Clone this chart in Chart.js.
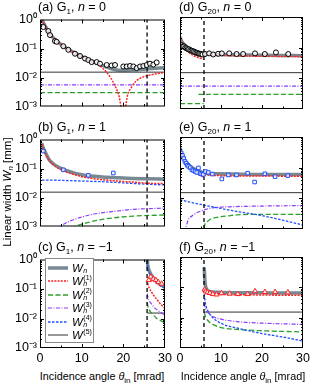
<!DOCTYPE html>
<html>
<head>
<meta charset="utf-8">
<script src="https://cdn.jsdelivr.net/npm/chart.js@4.4.1/dist/chart.umd.min.js"></script>
<style>
body{margin:0;width:313px;height:384px;background:#fff;position:relative;overflow:hidden;font-family:"Liberation Sans",Arial,sans-serif;color:#000}
canvas{position:absolute}
.t{position:absolute;font-size:12.5px;line-height:14px;white-space:nowrap}
.t sub,.ax sub{font-size:8px;vertical-align:-3px;line-height:0}
.ax{position:absolute;font-size:10.8px;line-height:13px;white-space:nowrap;transform:translateX(-50%)}
#ylab{position:absolute;left:8px;top:192px;transform:translate(-50%,-50%) rotate(-90deg);font-size:11.5px;white-space:nowrap}
#legend{position:absolute;left:45px;top:258px;width:49px;height:85px;border:1px solid #888;background:#fff;box-sizing:border-box}
.row{position:absolute;left:2px;height:13px;display:flex;align-items:center}
.row svg{display:block}
.lab{margin-left:4px;font-size:11.5px;font-style:italic;display:flex;align-items:center}
.ss{display:inline-flex;flex-direction:column;font-size:7px;line-height:6.5px;margin-left:0.5px}
</style>
</head>
<body>
<canvas id="ca" width="180" height="108" style="left:0;top:9px"></canvas>
<canvas id="cb" width="180" height="108" style="left:0;top:129px"></canvas>
<canvas id="cc" width="180" height="120" style="left:0;top:249px"></canvas>
<canvas id="cd" width="145" height="108" style="left:168px;top:9px"></canvas>
<canvas id="ce" width="145" height="108" style="left:168px;top:129px"></canvas>
<canvas id="cf" width="145" height="120" style="left:168px;top:249px"></canvas>

<div class="t" style="left:38px;top:0px">(a) G<sub>1</sub>, <i>n</i> = 0</div>
<div class="t" style="left:38px;top:120px">(b) G<sub>1</sub>, <i>n</i> = 1</div>
<div class="t" style="left:38px;top:240px">(c) G<sub>1</sub>, <i>n</i> = −1</div>
<div class="t" style="left:179px;top:0px">(d) G<sub>20</sub>, <i>n</i> = 0</div>
<div class="t" style="left:179px;top:120px">(e) G<sub>20</sub>, <i>n</i> = 1</div>
<div class="t" style="left:179px;top:240px">(f) G<sub>20</sub>, <i>n</i> = −1</div>

<div id="ylab">Linear width <i>W</i><sub style="font-size:8px;vertical-align:-2px"><i>n</i></sub> [mm]</div>
<div class="ax" style="left:102px;top:370px">Incidence angle <i>θ</i><sub>in</sub> [mrad]</div>
<div class="ax" style="left:243px;top:370px">Incidence angle <i>θ</i><sub>in</sub> [mrad]</div>

<div id="legend">
  <div class="row" style="top:2px"><svg width="20" height="6"><line x1="0" y1="3" x2="20" y2="3" stroke="rgb(120,137,148)" stroke-width="3.5"/></svg><span class="lab">W<span class="ss"><span>&nbsp;</span><span>n</span></span></span></div>
  <div class="row" style="top:15.5px"><svg width="20" height="6"><line x1="0" y1="3" x2="20" y2="3" stroke="#ff2020" stroke-width="1.5" stroke-dasharray="2 1.2"/></svg><span class="lab">W<span class="ss"><span style="font-style:normal">(1)</span><span>n</span></span></span></div>
  <div class="row" style="top:29px"><svg width="20" height="6"><line x1="0" y1="3" x2="20" y2="3" stroke="#2aa02a" stroke-width="1.3" stroke-dasharray="5 2.5"/></svg><span class="lab">W<span class="ss"><span style="font-style:normal">(2)</span><span>n</span></span></span></div>
  <div class="row" style="top:42.5px"><svg width="20" height="6"><line x1="0" y1="3" x2="20" y2="3" stroke="#8a3cff" stroke-width="1.2" stroke-dasharray="4 1.5 1 1.5"/></svg><span class="lab">W<span class="ss"><span style="font-style:normal">(3)</span><span>n</span></span></span></div>
  <div class="row" style="top:56px"><svg width="20" height="6"><line x1="0" y1="3" x2="20" y2="3" stroke="#1f4fff" stroke-width="1.3" stroke-dasharray="2.5 1.5"/></svg><span class="lab">W<span class="ss"><span style="font-style:normal">(4)</span><span>n</span></span></span></div>
  <div class="row" style="top:69.5px"><svg width="20" height="6"><line x1="0" y1="3" x2="20" y2="3" stroke="#333" stroke-width="1"/></svg><span class="lab">W<span class="ss"><span style="font-style:normal">(5)</span><span>&nbsp;</span></span></span></div>
</div>

<script>
// axes
const xTicks = [0, 10, 20, 30];
const yTicks = [1e-3, 1e-2, 1e-1, 1];
const yTickLabels = ['10⁻³', '10⁻²', '10⁻¹', '10⁰'];
const cutG1 = 25.7;
const cutG20 = 5.85;

// (a) G1, n = 0
const aX = [0.4, 1, 2, 3, 4, 5, 6, 8, 10, 12, 14, 16, 18, 20, 22, 24, 26, 28, 30];
const aWn = [1.0, 0.7, 0.38, 0.25, 0.18, 0.14, 0.11, 0.075, 0.053, 0.039, 0.03, 0.023, 0.0185, 0.0175, 0.018, 0.019, 0.02, 0.021, 0.022];
const aX1 = [0.4, 1, 2, 3, 4, 5, 6, 8, 10, 12, 14, 15, 16, 17, 18, 19, 20, 21, 22, 23, 24, 26, 28, 30];
const aW1 = [1.0, 0.7, 0.38, 0.25, 0.18, 0.14, 0.11, 0.075, 0.052, 0.037, 0.027, 0.021, 0.015, 0.0095, 0.0052, 0.0022, 0.0004, 0.0024, 0.0047, 0.0074, 0.0093, 0.0118, 0.0135, 0.015];
const aXc = [0, 30];
const aW2 = [0.003, 0.003];
const aW3 = [0.0056, 0.0056];
const aW5 = [0.0153, 0.0153];
const aCircX = [0.8, 2.0, 2.4, 3.6, 4.0, 5.6, 6.8, 8.4, 9.6, 10.8, 11.6, 12.4, 13.6, 14.4, 16.0, 17.2, 18.0, 20.0, 20.8, 21.6, 22.4, 23.2, 24.0, 24.8, 25.6, 26.4, 27.2, 28.0];
const aCircY = [0.55, 0.4, 0.29, 0.18, 0.17, 0.12, 0.09, 0.066, 0.055, 0.045, 0.04, 0.034, 0.034, 0.03, 0.027, 0.026, 0.027, 0.024, 0.024, 0.025, 0.024, 0.021, 0.024, 0.025, 0.027, 0.03, 0.028, 0.033];

// (b) G1, n = 1
const bX = [0.4, 0.8, 1.2, 1.6, 2.2, 3.2, 4.5, 6.4, 8.5, 10.4, 14.4, 18.4, 22.4, 26, 30];
const bWn = [0.75, 0.5, 0.38, 0.29, 0.2, 0.145, 0.11, 0.084, 0.068, 0.06, 0.052, 0.048, 0.045, 0.044, 0.043];
const bW1 = [0.7, 0.47, 0.35, 0.27, 0.19, 0.135, 0.1, 0.075, 0.06, 0.051, 0.042, 0.037, 0.034, 0.031, 0.03];
const bX4 = [0.5, 5, 10, 15, 20, 25, 30];
const bW4 = [0.04, 0.039, 0.037, 0.035, 0.032, 0.029, 0.027];
const bX3 = [4, 4.8, 7, 10.4, 13, 16.8, 22.4, 30];
const bW3 = [0.0008, 0.001, 0.0015, 0.0022, 0.0027, 0.0032, 0.0039, 0.0043];
const bX2 = [7.5, 8.4, 10, 14.4, 20.8, 30];
const bW2 = [0.0008, 0.001, 0.0012, 0.0017, 0.0022, 0.0025];
const bW5 = [0.0153, 0.0153];
const bSqX = [0.8, 5.6, 11.6, 17.6];
const bSqY = [0.4, 0.09, 0.058, 0.07];

// (c) G1, n = -1
const cX = [25.75, 25.9, 26.2, 26.6, 27, 27.5, 28, 29, 30];
const cWn = [1.0, 0.6, 0.42, 0.32, 0.26, 0.21, 0.18, 0.14, 0.12];
const cW4 = [0.9, 0.5, 0.36, 0.28, 0.23, 0.19, 0.16, 0.125, 0.105];
const cW1 = [0.2, 0.15, 0.11, 0.085, 0.07, 0.055, 0.045, 0.03, 0.022];
const cW3 = [0.07, 0.05, 0.04, 0.033, 0.028, 0.023, 0.02, 0.016, 0.013];
const cW2 = [0.035, 0.025, 0.02, 0.016, 0.014, 0.012, 0.01, 0.0085, 0.007];
const cX5 = [25.75, 30];
const cW5 = [0.0153, 0.0153];
const cTrX = [26.1, 26.6, 27.2, 27.8, 28.4, 29.2];
const cTrY = [0.2, 0.26, 0.22, 0.2, 0.17, 0.15];

// (d) G20, n = 0
const dX = [0, 0.3, 0.7, 1.2, 2, 3, 4, 5, 5.85, 7, 10, 15, 20, 25, 30];
const dWn = [0.22, 0.17, 0.14, 0.12, 0.1, 0.085, 0.075, 0.068, 0.064, 0.062, 0.06, 0.058, 0.057, 0.056, 0.055];
const dX1 = [0, 0.3, 0.7, 1.2, 2, 3, 4, 5, 5.8, 5.85, 5.9, 8, 12, 18, 24, 30];
const dW1 = [0.25, 0.17, 0.12, 0.095, 0.072, 0.058, 0.05, 0.045, 0.042, null, 0.062, 0.058, 0.055, 0.053, 0.052, 0.051];
const dX2 = [0, 5.8, 5.1, 4.5, 30];
const dW2 = [0.0015, 0.0015, null, 0.003, 0.003];
const dXc = [0, 30];
const dW3 = [0.0056, 0.0056];
const dW5 = [0.0153, 0.0153];
const dCircX = [0.4, 0.7, 1.0, 1.3, 1.6, 1.9, 2.2, 2.5, 2.8, 3.1, 3.4, 3.7, 4.0, 4.3, 4.6, 4.9, 5.2, 5.5, 6.1, 7.1, 8.1, 9.3, 10.2, 12.0, 13.8, 15.4, 18.3, 20.7, 23.4, 26.4];
const dCircY = [0.12, 0.11, 0.11, 0.1, 0.095, 0.09, 0.088, 0.082, 0.08, 0.077, 0.074, 0.07, 0.068, 0.066, 0.064, 0.063, 0.061, 0.06, 0.062, 0.065, 0.06, 0.063, 0.065, 0.065, 0.062, 0.062, 0.065, 0.062, 0.07, 0.062];

// (e) G20, n = 1
const eX = [0, 0.3, 0.7, 1.2, 2, 3, 4, 5, 5.85, 7, 10, 15, 20, 25, 30];
const eWn = [0.45, 0.32, 0.23, 0.17, 0.13, 0.1, 0.085, 0.074, 0.068, 0.065, 0.063, 0.061, 0.06, 0.06, 0.06];
const eX1 = [0, 0.3, 0.7, 1.2, 2, 3, 4, 5, 5.8, 5.85, 5.9, 8, 12, 18, 24, 30];
const eW1 = [0.38, 0.28, 0.2, 0.15, 0.11, 0.08, 0.065, 0.055, 0.05, null, 0.058, 0.056, 0.054, 0.053, 0.053, 0.052];
const eX4 = [0, 3, 5.85, 10, 14, 18.3, 22, 26, 30];
const eW4 = [0.009, 0.0072, 0.006, 0.0047, 0.0037, 0.003, 0.0024, 0.0018, 0.00135];
const eX3 = [1.0, 1.5, 2, 3, 3.7, 5, 5.85, 8, 12, 20, 30];
const eW3 = [0.0008, 0.0012, 0.002, 0.0027, 0.0032, 0.0038, 0.0042, 0.0049, 0.0053, 0.0056, 0.0058];
const eX2 = [5.85, 5.9, 6.5, 7.7, 9, 12, 14, 20, 25, 30];
const eW2 = [0.0006, 0.0011, 0.0017, 0.0022, 0.0024, 0.0027, 0.0029, 0.003, 0.003, 0.003];
const eXc = [0, 30];
const eW5 = [0.0153, 0.0153];
const eSqX = [0.3, 0.6, 0.9, 1.2, 1.5, 1.8, 2.1, 2.5, 2.9, 3.3, 3.7, 4.1, 4.5, 4.9, 5.3, 5.7, 6.2, 6.9, 7.9, 10.2, 11.8, 13.8, 16.5, 18.2, 20.7, 23.2, 26.3];
const eSqY = [0.3, 0.25, 0.2, 0.16, 0.14, 0.12, 0.11, 0.1, 0.085, 0.08, 0.075, 0.07, 0.098, 0.065, 0.062, 0.06, 0.075, 0.07, 0.062, 0.043, 0.058, 0.058, 0.066, 0.034, 0.063, 0.051, 0.055];

// (f) G20, n = -1
const fX = [5.9, 6.1, 6.5, 7, 8, 10, 15, 20, 25, 30];
const fWn = [0.45, 0.15, 0.085, 0.075, 0.07, 0.068, 0.066, 0.066, 0.065, 0.065];
const fW1 = [0.09, 0.075, 0.066, 0.062, 0.06, 0.058, 0.057, 0.056, 0.055, 0.055];
const fX2 = [5.9, 6.2, 7, 8, 10, 15, 20, 30];
const fW3 = [0.03, 0.02, 0.014, 0.011, 0.0089, 0.0072, 0.0066, 0.006];
const fW2 = [0.015, 0.011, 0.0075, 0.006, 0.0047, 0.004, 0.0037, 0.0034];
const fX4 = [5.9, 6.2, 7, 8, 10, 15, 20, 25, 30];
const fW4 = [0.06, 0.03, 0.015, 0.01, 0.0065, 0.0042, 0.003, 0.0023, 0.0017];
const fX5 = [5.9, 30];
const fW5 = [0.0153, 0.0153];
const fTrX = [6.0, 6.3, 6.7, 7.3, 8.0, 8.9, 10.1, 12.1, 14.1, 16.5, 18.3, 20.7, 23.2, 26.3];
const fTrY = [0.085, 0.074, 0.068, 0.065, 0.06, 0.058, 0.064, 0.062, 0.06, 0.06, 0.074, 0.07, 0.07, 0.068];

const FONT = '"Liberation Sans", Arial, sans-serif';

const ST = {
  wn: {borderColor: 'rgb(120,137,148)', borderWidth: 3.5, order: 10},
  w1: {borderColor: '#ff2020', borderWidth: 1.5, borderDash: [2, 1.2], order: 3},
  w2: {borderColor: '#2aa02a', borderWidth: 1.3, borderDash: [5, 2.5], order: 5},
  w3: {borderColor: '#8a3cff', borderWidth: 1.2, borderDash: [4, 1.5, 1, 1.5], order: 4},
  w4: {borderColor: '#1f4fff', borderWidth: 1.3, borderDash: [2.5, 1.5], order: 4},
  w5: {borderColor: '#333', borderWidth: 1, order: 6},
  cut: {borderColor: '#000', borderWidth: 1.3, borderDash: [4, 3], order: 2}
};

function pts(xs, ys) {
  return xs.map((x, i) => ({x: x, y: ys[i]}));
}

function line(style, xs, ys, smooth) {
  return Object.assign({}, style, {
    data: pts(xs, ys),
    pointRadius: 0,
    fill: false,
    spanGaps: false,
    tension: smooth ? 0.4 : 0,
    cubicInterpolationMode: smooth ? 'monotone' : 'default'
  });
}

function marks(xs, ys, shape, color) {
  return {
    data: pts(xs, ys),
    showLine: false,
    pointStyle: shape,
    pointRadius: shape === 'triangle' ? 3 : 2.5,
    pointBorderColor: color,
    pointBackgroundColor: 'rgba(255,255,255,0.8)',
    pointBorderWidth: 1,
    borderColor: color,
    order: 0
  };
}

function cut(c) {
  return line(ST.cut, [c, c], [1e-3, 1], false);
}

// frame + inward ticks on all four sides
const framePlugin = {
  id: 'frame',
  afterDatasetsDraw(chart) {
    const ctx = chart.ctx, a = chart.chartArea, x = chart.scales.x, y = chart.scales.y;
    ctx.save();
    ctx.strokeStyle = '#000';
    ctx.lineWidth = 1;
    ctx.setLineDash([]);
    ctx.strokeRect(a.left + 0.5, a.top + 0.5, a.right - a.left - 1, a.bottom - a.top - 1);
    ctx.beginPath();
    for (let v = 5; v < 30; v += 5) {
      const px = Math.round(x.getPixelForValue(v)) + 0.5;
      const L = v % 10 ? 2.5 : 4;
      ctx.moveTo(px, a.bottom); ctx.lineTo(px, a.bottom - L);
      ctx.moveTo(px, a.top); ctx.lineTo(px, a.top + L);
    }
    for (let d = -3; d < 0; d++) {
      for (let m = 1; m < 10; m++) {
        const v = m * Math.pow(10, d);
        if (v <= 1e-3) continue;
        const py = Math.round(y.getPixelForValue(v)) + 0.5;
        const L = m === 1 ? 4 : 2;
        ctx.moveTo(a.left, py); ctx.lineTo(a.left + L, py);
        ctx.moveTo(a.right, py); ctx.lineTo(a.right - L, py);
      }
    }
    ctx.stroke();
    ctx.restore();
  }
};

function panel(id, col, row, datasets) {
  const left = col === 0;
  const bottom = row === 2;
  new Chart(document.getElementById(id), {
    type: 'line',
    data: {datasets: datasets},
    options: {
      responsive: false,
      animation: false,
      events: [],
      layout: {padding: {top: 8, bottom: bottom ? 0 : 8, left: 0, right: left ? 15 : 10}},
      plugins: {legend: {display: false}, tooltip: {enabled: false}},
      scales: {
        x: {
          type: 'linear', min: 0, max: 30,
          grid: {display: false, drawTicks: false},
          border: {display: false},
          afterBuildTicks: s => { s.ticks = xTicks.map(v => ({value: v})); },
          afterFit: s => { s.height = bottom ? 21 : 0; },
          ticks: {display: bottom, padding: 3, color: '#000', autoSkip: false, maxRotation: 0,
                  font: {family: FONT, size: 12.5}}
        },
        y: {
          type: 'logarithmic', min: 1e-3, max: 1,
          grid: {display: false, drawTicks: false},
          border: {display: false},
          afterBuildTicks: s => { s.ticks = yTicks.map(v => ({value: v})); },
          afterFit: s => { s.width = left ? 40 : 12; },
          ticks: {display: left, padding: 3, color: '#000', autoSkip: false,
                  font: {family: FONT, size: 12.5},
                  callback: v => yTickLabels[yTicks.findIndex(t => Math.abs(t - v) < t * 1e-6)] || ''}
        }
      }
    },
    plugins: [framePlugin]
  });
}

panel('ca', 0, 0, [
  marks(aCircX, aCircY, 'circle', '#000'),
  cut(cutG1),
  line(ST.w1, aX1, aW1, true),
  line(ST.w3, aXc, aW3, false),
  line(ST.w2, aXc, aW2, false),
  line(ST.w5, aXc, aW5, false),
  line(ST.wn, aX, aWn, true)
]);

panel('cb', 0, 1, [
  marks(bSqX, bSqY, 'rect', '#1f4fff'),
  cut(cutG1),
  line(ST.w1, bX, bW1, true),
  line(ST.w4, bX4, bW4, true),
  line(ST.w3, bX3, bW3, true),
  line(ST.w2, bX2, bW2, true),
  line(ST.w5, aXc, bW5, false),
  line(ST.wn, bX, bWn, true)
]);

panel('cc', 0, 2, [
  marks(cTrX, cTrY, 'triangle', '#ff2020'),
  cut(cutG1),
  line(ST.w1, cX, cW1, true),
  line(ST.w4, cX, cW4, true),
  line(ST.w3, cX, cW3, true),
  line(ST.w2, cX, cW2, true),
  line(ST.w5, cX5, cW5, false),
  line(ST.wn, cX, cWn, true)
]);

panel('cd', 1, 0, [
  marks(dCircX, dCircY, 'circle', '#000'),
  cut(cutG20),
  line(ST.w1, dX1, dW1, true),
  line(ST.w3, dXc, dW3, false),
  line(ST.w2, dX2, dW2, false),
  line(ST.w5, dXc, dW5, false),
  line(ST.wn, dX, dWn, true)
]);

panel('ce', 1, 1, [
  marks(eSqX, eSqY, 'rect', '#1f4fff'),
  cut(cutG20),
  line(ST.w1, eX1, eW1, true),
  line(ST.w4, eX4, eW4, true),
  line(ST.w3, eX3, eW3, true),
  line(ST.w2, eX2, eW2, true),
  line(ST.w5, eXc, eW5, false),
  line(ST.wn, eX, eWn, true)
]);

panel('cf', 1, 2, [
  marks(fTrX, fTrY, 'triangle', '#ff2020'),
  cut(cutG20),
  line(ST.w1, fX, fW1, true),
  line(ST.w4, fX4, fW4, true),
  line(ST.w3, fX2, fW3, true),
  line(ST.w2, fX2, fW2, true),
  line(ST.w5, fX5, fW5, false),
  line(ST.wn, fX, fWn, true)
]);
</script>
</body>
</html>
